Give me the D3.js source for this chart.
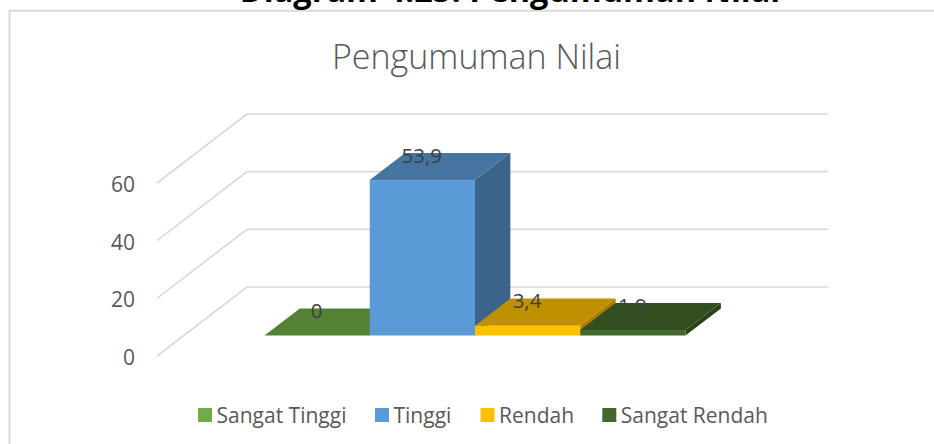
<!DOCTYPE html>
<html><head><meta charset="utf-8">
<script src="https://cdn.jsdelivr.net/npm/d3@7/dist/d3.min.js"></script>
<style>html,body{margin:0;padding:0;background:#fff}svg{display:block}text{font-family:"Open Sans",sans-serif}</style>
</head><body><svg id="c" width="934" height="444"></svg>
<script>
const categories = ["Sangat Tinggi","Tinggi","Rendah","Sangat Rendah"];
const values = [0,53.9,3.4,1.9];
const valueLabels = ["0","53,9","3,4","1,9"];
const frontColors = ["#70AD47","#5B9BD5","#FFC000","#43682B"];
const topColors = ["#548235","#44749F","#BF9000","#334F21"];
const sideColors = ["#4A7330","#3A6489","#A67D00","#2A411B"];
const yTicks = [0,20,40,60];

const svg = d3.select("#c");
const ink = "#595959";
const y = d3.scaleLinear().domain([0,60]).range([356,183]);
const depthX = 90, depthY = -69;
const px = (x,d)=>x+depthX*d, py=(yy,d)=>yy+depthY*d;
const xBand = d3.scaleBand().domain(categories).range([264.5,685.5]);
const barFrontDepth = 0.297, barBackDepth = 0.69;

svg.append("rect").attr("x",9.5).attr("y",10.7).attr("width",940).attr("height",450)
   .attr("fill","#fff").attr("stroke","#d9d9d9").attr("stroke-width",2);
svg.append("text").attr("x",510).attr("y",1.5).attr("text-anchor","middle")
   .attr("font-size",32.5).attr("font-weight",700).attr("fill","#000").text("Diagram 4.25: Pengumuman Nilai");
svg.append("text").attr("x",476.5).attr("y",68.5).attr("text-anchor","middle").attr("font-size",34)
   .attr("font-weight",300).attr("fill",ink).text("Pengumuman Nilai");

const xL=157, xR=738;
yTicks.forEach(t=>{
  const pts=[[xL,y(t)],[px(xL,1),py(y(t),1)],[px(xR,1),py(y(t),1)]];
  svg.append("path").attr("d",d3.line()(pts)).attr("fill","none").attr("stroke","#d9d9d9").attr("stroke-width",1.6);
  svg.append("text").attr("x",135).attr("y",y(t)+9).attr("text-anchor","end").attr("font-size",21).attr("fill",ink).text(t);
});

const dz=barBackDepth-barFrontDepth, ox=depthX*dz, oy=depthY*dz;
const base = py(y(0),barFrontDepth);
const h = v=>y(0)-y(v);
categories.forEach((c,i)=>{
  const x0=xBand(c), x1=x0+xBand.bandwidth(), t=base-h(values[i]);
  const g=svg.append("g");
  g.append("path").attr("d",d3.line()([[x0,t],[x1,t],[x1+ox,t+oy],[x0+ox,t+oy]])+"Z").attr("fill",topColors[i]);
  if(values[i]>0){
    g.append("path").attr("d",d3.line()([[x1,t],[x1+ox,t+oy],[x1+ox,base+oy],[x1,base]])+"Z").attr("fill",sideColors[i]);
    g.append("rect").attr("x",x0).attr("y",t).attr("width",x1-x0).attr("height",h(values[i])).attr("fill",frontColors[i]);
  }
});
categories.forEach((c,i)=>{
  svg.append("text").attr("x",xBand(c)+52).attr("y",base-h(values[i])-17.5)
    .attr("text-anchor","middle").attr("font-size",20.5).attr("fill","#404040").text(valueLabels[i]);
});

const legX=[198,375,480.5,602.3];
categories.forEach((c,i)=>{
  svg.append("rect").attr("x",legX[i]).attr("y",408).attr("width",14).attr("height",14).attr("fill",frontColors[i]);
  svg.append("text").attr("x",legX[i]+18.5).attr("y",422.5).attr("font-size",21).attr("fill",ink).text(c);
});
</script></body></html>
